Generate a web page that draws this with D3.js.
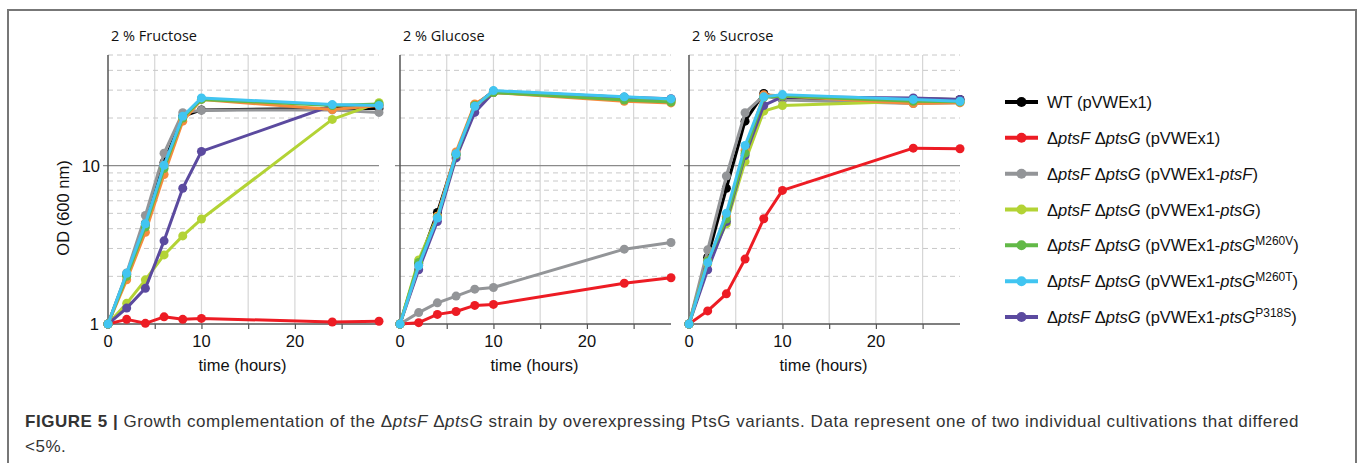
<!DOCTYPE html>
<html>
<head>
<meta charset="utf-8">
<script src="https://cdn.jsdelivr.net/npm/d3@7"></script>
<style>
    html, body { margin: 0; padding: 0; background: #fff; }
    svg { display: block; }
</style>
</head>
<body>
<div id="figure"></div>
<script>
// sampling times (hours) and panel titles
const times = [0, 2, 4, 6, 8, 10, 24, 29];
const sugars = ["2 % Fructose", "2 % Glucose", "2 % Sucrose"];

// OD600 per strain, one row per sugar (fructose, glucose, sucrose)
const wtOD = [
    [1, 2.05, 4.3, 10.5, 20.5, 22.5, 23, 23],
    [1, 2.4, 5.06, 11.8, 24, 29.5, 27, 26],
    [1, 2.64, 7.2, 19.1, 28.6, 26.2, 26.5, 26.2]
];
const emptyOD = [
    [1, 1.07, 1.01, 1.11, 1.07, 1.085, 1.03, 1.04],
    [1, 1.02, 1.15, 1.2, 1.31, 1.33, 1.81, 1.96],
    [1, 1.21, 1.55, 2.57, 4.62, 6.98, 12.9, 12.8]
];
const ptsFOD = [
    [1, 2.1, 4.85, 12.0, 21.6, 22.4, 22.5, 21.7],
    [1, 1.18, 1.36, 1.5, 1.66, 1.7, 2.97, 3.27],
    [1, 2.94, 8.6, 21.6, 27.7, 26, 24.7, 25]
];
const ptsGOD = [
    [1, 1.35, 1.9, 2.73, 3.6, 4.6, 19.6, 25.0],
    [1, 2.54, 4.8, 11.8, 24, 29, 26.5, 25.5],
    [1, 2.4, 4.3, 10.6, 22.1, 24.0, 25.5, 25.3]
];
const m260vOD = [
    [1, 2.0, 4.1, 9.6, 20, 26.2, 24, 24.5],
    [1, 2.45, 4.7, 11.7, 24, 29, 26, 25.2],
    [1, 2.5, 4.6, 12, 27, 27.5, 25.5, 25.3]
];
// orange series shows in the plots but has no legend entry
const orangeOD = [
    [1, 1.9, 3.8, 8.8, 19.1, 26.2, 22.6, 24],
    [1, 2.35, 4.8, 12.2, 24.5, 29, 25.5, 24.9],
    [1, 2.5, 4.8, 12.5, 28, 27.5, 24.7, 25]
];
const m260tOD = [
    [1, 2.09, 4.3, 10.05, 20.5, 26.8, 24.3, 24.0],
    [1, 2.33, 4.67, 11.9, 23.7, 29.8, 27.2, 26.4],
    [1, 2.44, 5.0, 13.4, 27.2, 28.1, 26.2, 25.5]
];
const p318sOD = [
    [1, 1.26, 1.68, 3.35, 7.2, 12.3, 24.0, 24.0],
    [1, 2.2, 4.44, 11.2, 21.7, 29, 27, 26.5],
    [1, 2.2, 4.44, 11.6, 24.0, 27.2, 26.8, 26.2]
];

// legend labels: *italic*, ^superscript^
const legendLabels = [
    "WT (pVWEx1)",
    "Δ*ptsF* Δ*ptsG* (pVWEx1)",
    "Δ*ptsF* Δ*ptsG* (pVWEx1-*ptsF*)",
    "Δ*ptsF* Δ*ptsG* (pVWEx1-*ptsG*)",
    "Δ*ptsF* Δ*ptsG* (pVWEx1-*ptsG*^M260V^)",
    "Δ*ptsF* Δ*ptsG* (pVWEx1-*ptsG*^M260T^)",
    "Δ*ptsF* Δ*ptsG* (pVWEx1-*ptsG*^P318S^)"
];

const xTicks = [0, 10, 20];
const xGrid = [5, 10, 15, 20, 25];
const yMinor = [2, 3, 4, 5, 6, 7, 8, 9, 20, 30, 40, 50];

const captionLines = [
    "**FIGURE 5 |** Growth complementation of the Δ*ptsF* Δ*ptsG* strain by overexpressing PtsG variants. Data represent one of two individual cultivations that differed",
    "<5%."
];

const Figure = {
    width: 1360,
    height: 463,

    // draw order: bottom first
    series: [
        { values: wtOD, color: "#000000", legend: 0 },
        { values: ptsFOD, color: "#939598", legend: 2 },
        { values: emptyOD, color: "#ed1c24", legend: 1 },
        { values: ptsGOD, color: "#b3d335", legend: 3 },
        { values: p318sOD, color: "#5b4a9f", legend: 6 },
        { values: orangeOD, color: "#f58b3c", legend: null },
        { values: m260vOD, color: "#62b947", legend: 4 },
        { values: m260tOD, color: "#41c5f1", legend: 5 }
    ],

    init() {
        this.svg = d3.select("#figure")
            .append("svg")
            .attr("width", this.width)
            .attr("height", this.height);

        this.drawFrame();
        const left = [108, 400, 689];
        sugars.forEach((title, i) => this.drawPanel(i, left[i], title));
        this.drawYLabel();
        this.drawLegend();
        this.drawCaption();
    },

    drawFrame() {
        this.svg.append("path")
            .attr("d", `M8,${this.height} V10 H1356 V${this.height}`)
            .attr("fill", "none")
            .attr("stroke", "#777")
            .attr("stroke-width", 2);
    },

    drawPanel(i, x0, title) {
        const w = 271;
        const top = 55, bottom = 324;

        const x = d3.scaleLinear().domain([0, 29]).range([x0, x0 + w]);
        const y = d3.scaleLog().domain([1, 50]).range([bottom, top]);

        const g = this.svg.append("g");

        // vertical grid
        g.selectAll(".vgrid")
            .data(xGrid)
            .join("line")
            .attr("x1", d => x(d)).attr("x2", d => x(d))
            .attr("y1", top).attr("y2", bottom)
            .attr("stroke", "#d6d6d6")
            .attr("stroke-width", 1.2);

        // dashed horizontal grid
        g.selectAll(".hgrid")
            .data(yMinor)
            .join("line")
            .attr("x1", x(0)).attr("x2", x(29))
            .attr("y1", d => y(d)).attr("y2", d => y(d))
            .attr("stroke", "#c8c8c8")
            .attr("stroke-width", 1)
            .attr("stroke-dasharray", "5,4");

        // solid line at 10, with a tick on the left
        g.append("line")
            .attr("x1", x(0) - 5).attr("x2", x(29))
            .attr("y1", y(10)).attr("y2", y(10))
            .attr("stroke", "#8a8a8a")
            .attr("stroke-width", 1.3);

        // x axis
        const xAxis = g.append("g")
            .attr("transform", `translate(0,${bottom})`)
            .call(d3.axisBottom(x).tickValues(d3.range(0, 30, 5)).tickSize(5).tickFormat(""));
        xAxis.select(".domain").attr("stroke", "#555").attr("stroke-width", 1.5)
            .attr("d", `M${x(0)},0H${x(29)}`);
        xAxis.selectAll(".tick line").attr("stroke", "#555").attr("stroke-width", 1.2);

        g.selectAll(".xlab")
            .data(xTicks)
            .join("text")
            .attr("x", d => x(d))
            .attr("y", 347)
            .attr("text-anchor", "middle")
            .style("font", "16.5px 'Liberation Sans', Arial, sans-serif")
            .attr("fill", "#111")
            .text(d => d);

        g.append("text")
            .attr("x", x(0) + w / 2 - 1)
            .attr("y", 371)
            .attr("text-anchor", "middle")
            .style("font", "16.5px 'Liberation Sans', Arial, sans-serif")
            .attr("fill", "#111")
            .text("time (hours)");

        // y axis line
        g.append("line")
            .attr("x1", x(0)).attr("x2", x(0))
            .attr("y1", top).attr("y2", bottom)
            .attr("stroke", "#555")
            .attr("stroke-width", 1.5);

        if (i === 0) {
            g.selectAll(".ylab")
                .data([1, 10])
                .join("text")
                .attr("x", d => d === 1 ? x(0) - 9 : x(0) - 8)
                .attr("y", d => y(d) + 6)
                .attr("text-anchor", "end")
                .style("font", "16.5px 'Liberation Sans', Arial, sans-serif")
                .attr("fill", "#111")
                .text(d => d);
        }

        g.append("text")
            .attr("x", x(0) + 3)
            .attr("y", 41)
            .style("font", "14.5px 'Open Sans', sans-serif")
            .attr("fill", "#111")
            .text(title);

        // series
        const line = d3.line()
            .x((d, k) => x(times[k]))
            .y(d => y(d));

        this.series.forEach(s => {
            const vals = s.values[i];
            g.append("path")
                .datum(vals)
                .attr("fill", "none")
                .attr("stroke", s.color)
                .attr("stroke-width", 3)
                .attr("stroke-linejoin", "round")
                .attr("d", line);

            g.selectAll(null)
                .data(vals)
                .join("circle")
                .attr("cx", (d, k) => x(times[k]))
                .attr("cy", d => y(d))
                .attr("r", 4.5)
                .attr("fill", s.color);
        });
    },

    drawYLabel() {
        this.svg.append("text")
            .attr("transform", "translate(69,208) rotate(-90)")
            .attr("text-anchor", "middle")
            .style("font", "16.5px 'Liberation Sans', Arial, sans-serif")
            .attr("fill", "#111")
            .text("OD (600 nm)");
    },

    // writes a label with *italic*, ^superscript^ and **bold** markup into a text node
    writeRich(text, str, supSize) {
        const parts = str.split(/(\*\*[^*]+\*\*|\*[^*]+\*|\^[^^]+\^)/).filter(p => p.length);
        let raised = false;
        parts.forEach(p => {
            const t = text.append("tspan");
            if (p.startsWith("**")) {
                t.attr("font-weight", "bold").text(p.slice(2, -2));
            } else if (p.startsWith("*")) {
                t.attr("font-style", "italic").text(p.slice(1, -1));
            } else if (p.startsWith("^")) {
                t.attr("font-size", supSize).attr("dy", -6).text(p.slice(1, -1));
                raised = true;
                return;
            } else {
                t.text(p);
            }
            if (raised) { t.attr("dy", 6); raised = false; }
        });
    },

    drawLegend() {
        const entries = this.series.filter(s => s.legend !== null)
            .sort((a, b) => a.legend - b.legend);
        const yPos = d3.scalePoint().domain(d3.range(legendLabels.length)).range([102, 317]);

        const g = this.svg.append("g");
        entries.forEach(s => {
            const yy = yPos(s.legend);
            g.append("line")
                .attr("x1", 1005).attr("x2", 1038)
                .attr("y1", yy).attr("y2", yy)
                .attr("stroke", s.color)
                .attr("stroke-width", 4);
            g.append("circle")
                .attr("cx", 1021.5).attr("cy", yy)
                .attr("r", 5)
                .attr("fill", s.color);
            const t = g.append("text")
                .attr("x", 1047)
                .attr("y", yy + 6)
                .style("font", "16.5px 'Liberation Sans', Arial, sans-serif")
                .attr("fill", "#111");
            this.writeRich(t, legendLabels[s.legend], 12);
        });
    },

    drawCaption() {
        const lines = captionLines.map((str, k) => {
            const t = this.svg.append("text")
                .attr("x", 25)
                .attr("y", 427 + k * 25)
                .style("font", "17px 'Liberation Sans', Arial, sans-serif")
                .attr("fill", "#333");
            this.writeRich(t, str, 11);
            return t;
        });
        // stretch the first line to the measured width of the printed caption
        const first = lines[0];
        const measured = first.node().getComputedTextLength();
        const target = 1274;
        const chars = captionLines[0].replace(/\*/g, "").length;
        const spacing = (target - measured) / chars;
        lines.forEach(t => t.style("letter-spacing", `${spacing}px`));
    }
};

document.addEventListener("DOMContentLoaded", () => {
    Figure.init();
});
</script>
</body>
</html>
